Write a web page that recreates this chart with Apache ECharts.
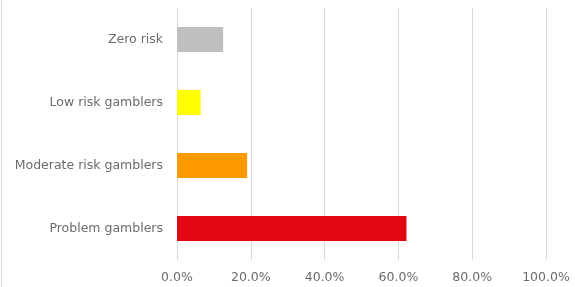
<!DOCTYPE html>
<html>
<head>
<meta charset="utf-8">
<script src="https://cdn.jsdelivr.net/npm/echarts@6/dist/echarts.min.js"></script>
<style>
  html, body { margin: 0; padding: 0; background: #fff; }
  #chart { width: 575px; height: 287px; }
</style>
</head>
<body>
<div id="chart"></div>
<script>
// categories top to bottom
var categories = ['Zero risk', 'Low risk gamblers', 'Moderate risk gamblers', 'Problem gamblers'];
var shares = [12.5, 6.4, 19.0, 62.2];
var barColors = ['#BFBFBF', '#FFFF00', '#FF9900', '#E30613'];
var xTicks = [0, 20, 40, 60, 80, 100];

var chart = echarts.init(document.getElementById('chart'));

var option = {
    animation: false,
    textStyle: { fontFamily: 'DejaVu Sans' },
    grid: { left: 177, right: 29, top: 8, bottom: 27 },
    xAxis: {
        type: 'value',
        min: xTicks[0],
        max: xTicks[xTicks.length - 1],
        interval: 20,
        axisLine: { show: false },
        axisTick: { show: false },
        axisLabel: {
            color: '#6b6b6b',
            fontSize: 12.5,
            margin: 11,
            formatter: function (v) { return v.toFixed(1) + '%'; }
        },
        splitLine: { lineStyle: { color: '#D9D9D9', width: 1 } }
    },
    yAxis: {
        type: 'category',
        inverse: true,
        data: categories,
        axisLine: { show: false },
        axisTick: { show: false },
        axisLabel: { color: '#6b6b6b', fontSize: 12.5, margin: 14 }
    },
    series: [{
        type: 'bar',
        barWidth: '40%',
        data: shares.map(function (v, i) {
            return { value: v, itemStyle: { color: barColors[i] } };
        })
    }],
    graphic: [{
        type: 'line',
        shape: { x1: 1.5, y1: 0, x2: 1.5, y2: 287 },
        style: { stroke: '#D9D9D9', lineWidth: 1 }
    }]
};

chart.setOption(option);
</script>
</body>
</html>
